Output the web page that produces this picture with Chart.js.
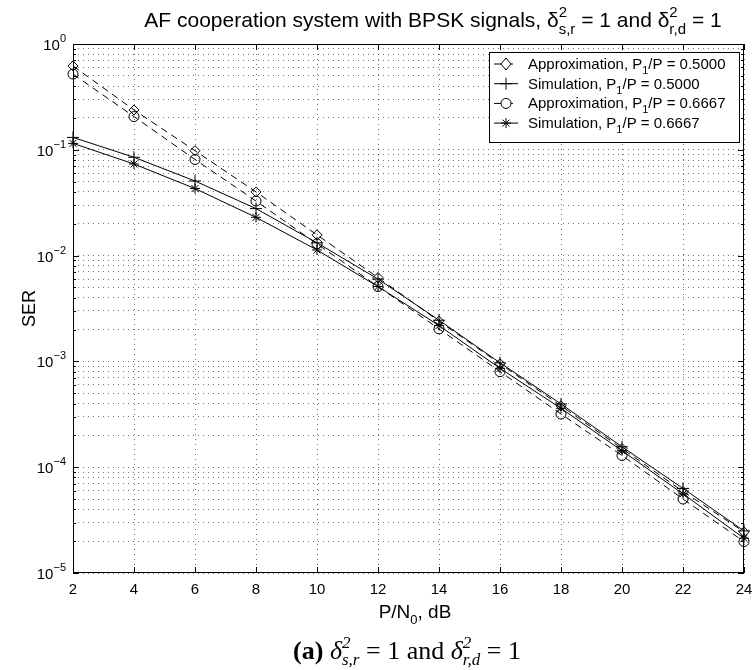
<!DOCTYPE html>
<html lang="en">
<head>
  <meta charset="UTF-8" />
  <title>AF cooperation system with BPSK signals</title>
  <script src="https://cdn.jsdelivr.net/npm/chart.js"></script>
  <style>
    body { margin: 0; background: #ffffff; }
    canvas { display: block; }
  </style>
</head>
<body>
  <canvas id="serChart" width="754" height="670"></canvas>

  <script>
    // P/N0 in dB
    const snrDb = [2, 4, 6, 8, 10, 12, 14, 16, 18, 20, 22, 24];

    // SER values
    const approxHalf = [0.62, 0.238, 0.098, 0.040, 0.0157, 0.0062, 0.0024, 0.00095, 0.00038, 0.000150, 0.000059, 0.0000245];
    const simHalf    = [0.131, 0.085, 0.0507, 0.0278, 0.0132, 0.0060, 0.00245, 0.00097, 0.000396, 0.000156, 0.000063, 0.0000250];
    const approxTwoThirds = [0.52, 0.206, 0.081, 0.0328, 0.0129, 0.0051, 0.00203, 0.00080, 0.000318, 0.000129, 0.000050, 0.0000198];
    const simTwoThirds    = [0.115, 0.0734, 0.043, 0.023, 0.0113, 0.0051, 0.00218, 0.00086, 0.00036, 0.000143, 0.000056, 0.0000213];

    const seriesNames = ['Approximation', 'Simulation', 'Approximation', 'Simulation'];
    const seriesRatios = ['0.5000', '0.5000', '0.6667', '0.6667'];
    const xTickLabels = ['2', '4', '6', '8', '10', '12', '14', '16', '18', '20', '22', '24'];
    const yDecades = [0, -1, -2, -3, -4, -5];

    const SANS = '"Liberation Sans", Arial, Helvetica, sans-serif';
    const SERIF = '"Liberation Serif", "DejaVu Serif", "Times New Roman", serif';

    function toPoints(ys) {
      return snrDb.map((x, i) => ({ x: x, y: ys[i] }));
    }

    // draws a run of pieces: {t, font, dy} or {sup, sub, font, supDy, subDy}
    function richWidth(ctx, parts) {
      let w = 0;
      parts.forEach(p => {
        ctx.font = p.font;
        if (p.t !== undefined) w += ctx.measureText(p.t).width;
        else w += Math.max(ctx.measureText(p.sup).width, ctx.measureText(p.sub).width);
      });
      return w;
    }

    function drawRich(ctx, parts, x, y, align) {
      const total = richWidth(ctx, parts);
      let cx = align === 'center' ? x - total / 2 : (align === 'right' ? x - total : x);
      ctx.textAlign = 'left';
      ctx.textBaseline = 'alphabetic';
      parts.forEach(p => {
        ctx.font = p.font;
        if (p.t !== undefined) {
          ctx.fillText(p.t, cx, y + (p.dy || 0));
          cx += ctx.measureText(p.t).width;
        } else {
          ctx.fillText(p.sup, cx, y + p.supDy);
          ctx.fillText(p.sub, cx, y + p.subDy);
          cx += Math.max(ctx.measureText(p.sup).width, ctx.measureText(p.sub).width);
        }
      });
    }

    function drawMarker(ctx, style, x, y) {
      const r = 5;
      ctx.beginPath();
      if (style === 'rectRot') {
        ctx.moveTo(x, y - r - 1); ctx.lineTo(x + r, y); ctx.lineTo(x, y + r + 1); ctx.lineTo(x - r, y); ctx.closePath();
        ctx.fillStyle = '#fff'; ctx.fill(); ctx.stroke();
      } else if (style === 'circle') {
        ctx.arc(x, y, r, 0, Math.PI * 2);
        ctx.fillStyle = '#fff'; ctx.fill(); ctx.stroke();
      } else if (style === 'cross') {
        ctx.moveTo(x - r - 1, y); ctx.lineTo(x + r + 1, y); ctx.moveTo(x, y - r - 1); ctx.lineTo(x, y + r + 1);
        ctx.stroke();
      } else {
        ctx.moveTo(x - r, y); ctx.lineTo(x + r, y); ctx.moveTo(x, y - r); ctx.lineTo(x, y + r);
        ctx.moveTo(x - 3.5, y - 3.5); ctx.lineTo(x + 3.5, y + 3.5); ctx.moveTo(x - 3.5, y + 3.5); ctx.lineTo(x + 3.5, y - 3.5);
        ctx.stroke();
      }
    }

    const matlabLook = {
      id: 'matlabLook',
      beforeDraw(chart) {
        const ctx = chart.ctx;
        ctx.save();
        ctx.fillStyle = '#ffffff';
        ctx.fillRect(0, 0, chart.width, chart.height);
        ctx.restore();
      },
      afterDraw(chart) {
        const ctx = chart.ctx;
        const a = chart.chartArea;
        const xs = chart.scales.x;
        const ys = chart.scales.y;
        ctx.save();
        ctx.strokeStyle = '#000';
        ctx.fillStyle = '#000';
        ctx.lineWidth = 1;
        ctx.setLineDash([]);

        // axes box
        ctx.strokeRect(a.left + 0.5, a.top + 0.5, a.right - a.left - 1, a.bottom - a.top - 1);

        // inward ticks
        ctx.beginPath();
        snrDb.forEach(v => {
          const px = Math.round(xs.getPixelForValue(v)) + 0.5;
          ctx.moveTo(px, a.bottom); ctx.lineTo(px, a.bottom - 6);
          ctx.moveTo(px, a.top); ctx.lineTo(px, a.top + 6);
        });
        yDecades.forEach(d => {
          for (let m = 1; m <= 9; m++) {
            const v = m * Math.pow(10, d);
            if (v > 1) break;
            const len = m === 1 ? 6 : 3;
            const py = Math.round(ys.getPixelForValue(v)) + 0.5;
            ctx.moveTo(a.left, py); ctx.lineTo(a.left + len, py);
            ctx.moveTo(a.right, py); ctx.lineTo(a.right - len, py);
          }
        });
        ctx.stroke();

        // x tick labels
        ctx.font = '15px ' + SANS;
        ctx.textAlign = 'center';
        ctx.textBaseline = 'alphabetic';
        snrDb.forEach((v, i) => {
          ctx.fillText(xTickLabels[i], xs.getPixelForValue(v), a.bottom + 21);
        });

        // y tick labels (10 with exponent)
        yDecades.forEach(d => {
          const py = ys.getPixelForValue(Math.pow(10, d));
          drawRich(ctx, [
            { t: '10', font: '15px ' + SANS },
            { t: String(d).replace('-', '\u2212'), font: '11px ' + SANS, dy: -8 }
          ], a.left - 7, py + 6, 'right');
        });

        // axis titles
        ctx.save();
        ctx.translate(35, (a.top + a.bottom) / 2);
        ctx.rotate(-Math.PI / 2);
        ctx.font = '18px ' + SANS;
        ctx.textAlign = 'center';
        ctx.fillText('SER', 0, 0);
        ctx.restore();

        drawRich(ctx, [
          { t: 'P/N', font: '19px ' + SANS },
          { t: '0', font: '13px ' + SANS, dy: 6 },
          { t: ', dB', font: '19px ' + SANS }
        ], 415, a.bottom + 45, 'center');

        // title
        const tf = '21px ' + SANS, ts = '15px ' + SANS;
        drawRich(ctx, [
          { t: 'AF cooperation system with BPSK signals, \u03b4', font: tf },
          { sup: '2', sub: 's,r', font: ts, supDy: -10, subDy: 7 },
          { t: ' = 1 and \u03b4', font: tf },
          { sup: '2', sub: 'r,d', font: ts, supDy: -10, subDy: 7 },
          { t: ' = 1', font: tf }
        ], 433, 27, 'center');

        // caption
        const cr = '26px ' + SERIF, ci = 'italic 26px ' + SERIF;
        drawRich(ctx, [
          { t: '(a)', font: 'bold 26px ' + SERIF },
          { t: ' ', font: cr },
          { t: '\u03b4', font: ci },
          { sup: '2', sub: 's,r', font: 'italic 17px ' + SERIF, supDy: -11, subDy: 6 },
          { t: ' = 1 and ', font: cr },
          { t: '\u03b4', font: ci },
          { sup: '2', sub: 'r,d', font: 'italic 17px ' + SERIF, supDy: -11, subDy: 6 },
          { t: ' = 1', font: cr }
        ], 407, 659, 'center');

        // legend
        const lx = 489, ly = 52, lw = 250, lh = 90;
        ctx.fillStyle = '#fff';
        ctx.fillRect(lx, ly, lw, lh);
        ctx.strokeStyle = '#000';
        ctx.strokeRect(lx + 0.5, ly + 0.5, lw, lh);
        chart.data.datasets.forEach((ds, i) => {
          const cy = ly + 12 + i * 19.7;
          ctx.strokeStyle = '#000';
          ctx.setLineDash(ds.borderDash || []);
          ctx.beginPath();
          ctx.moveTo(lx + 5, cy); ctx.lineTo(lx + 29, cy);
          ctx.stroke();
          ctx.setLineDash([]);
          drawMarker(ctx, ds.pointStyle, lx + 17, cy);
          ctx.fillStyle = '#000';
          drawRich(ctx, [
            { t: seriesNames[i] + ', P', font: '15px ' + SANS },
            { t: '1', font: '11px ' + SANS, dy: 5 },
            { t: '/P = ' + seriesRatios[i], font: '15px ' + SANS }
          ], lx + 39, cy + 5, 'left');
        });
        ctx.restore();
      }
    };

    const lineCommon = {
      borderColor: '#000',
      borderWidth: 1,
      pointBorderColor: '#000',
      pointBackgroundColor: 'rgba(255,255,255,0)',
      pointBorderWidth: 1,
      tension: 0,
      clip: false
    };

    new Chart(document.getElementById('serChart'), {
      type: 'line',
      data: {
        datasets: [
          Object.assign({}, lineCommon, { label: 'Approximation, P1/P = 0.5000', data: toPoints(approxHalf), borderDash: [7, 5], pointStyle: 'rectRot', pointRadius: 5 }),
          Object.assign({}, lineCommon, { label: 'Simulation, P1/P = 0.5000', data: toPoints(simHalf), pointStyle: 'cross', pointRadius: 6 }),
          Object.assign({}, lineCommon, { label: 'Approximation, P1/P = 0.6667', data: toPoints(approxTwoThirds), borderDash: [7, 5], pointStyle: 'circle', pointRadius: 5 }),
          Object.assign({}, lineCommon, { label: 'Simulation, P1/P = 0.6667', data: toPoints(simTwoThirds), pointStyle: 'star', pointRadius: 5 })
        ]
      },
      options: {
        responsive: false,
        animation: false,
        devicePixelRatio: 1,
        layout: { padding: { left: 73, right: 10, top: 44, bottom: 97 } },
        plugins: {
          legend: { display: false },
          title: { display: false },
          tooltip: { enabled: false }
        },
        scales: {
          x: {
            type: 'linear',
            min: 2,
            max: 24,
            ticks: { display: false, stepSize: 2 },
            grid: { color: 'rgba(0,0,0,0.55)', drawTicks: false, lineWidth: 1 },
            border: { display: false, dash: [1, 4] }
          },
          y: {
            type: 'logarithmic',
            min: 1e-5,
            max: 1,
            afterBuildTicks(scale) {
              const t = [];
              yDecades.slice().reverse().forEach(d => {
                for (let m = 1; m <= 9; m++) {
                  const v = m * Math.pow(10, d);
                  if (v <= 1) t.push({ value: v, major: m === 1 });
                }
              });
              scale.ticks = t;
            },
            ticks: { display: false },
            grid: { color: 'rgba(0,0,0,0.55)', drawTicks: false, lineWidth: 1 },
            border: { display: false, dash: [1, 4] }
          }
        }
      },
      plugins: [matlabLook]
    });
  </script>
</body>
</html>
